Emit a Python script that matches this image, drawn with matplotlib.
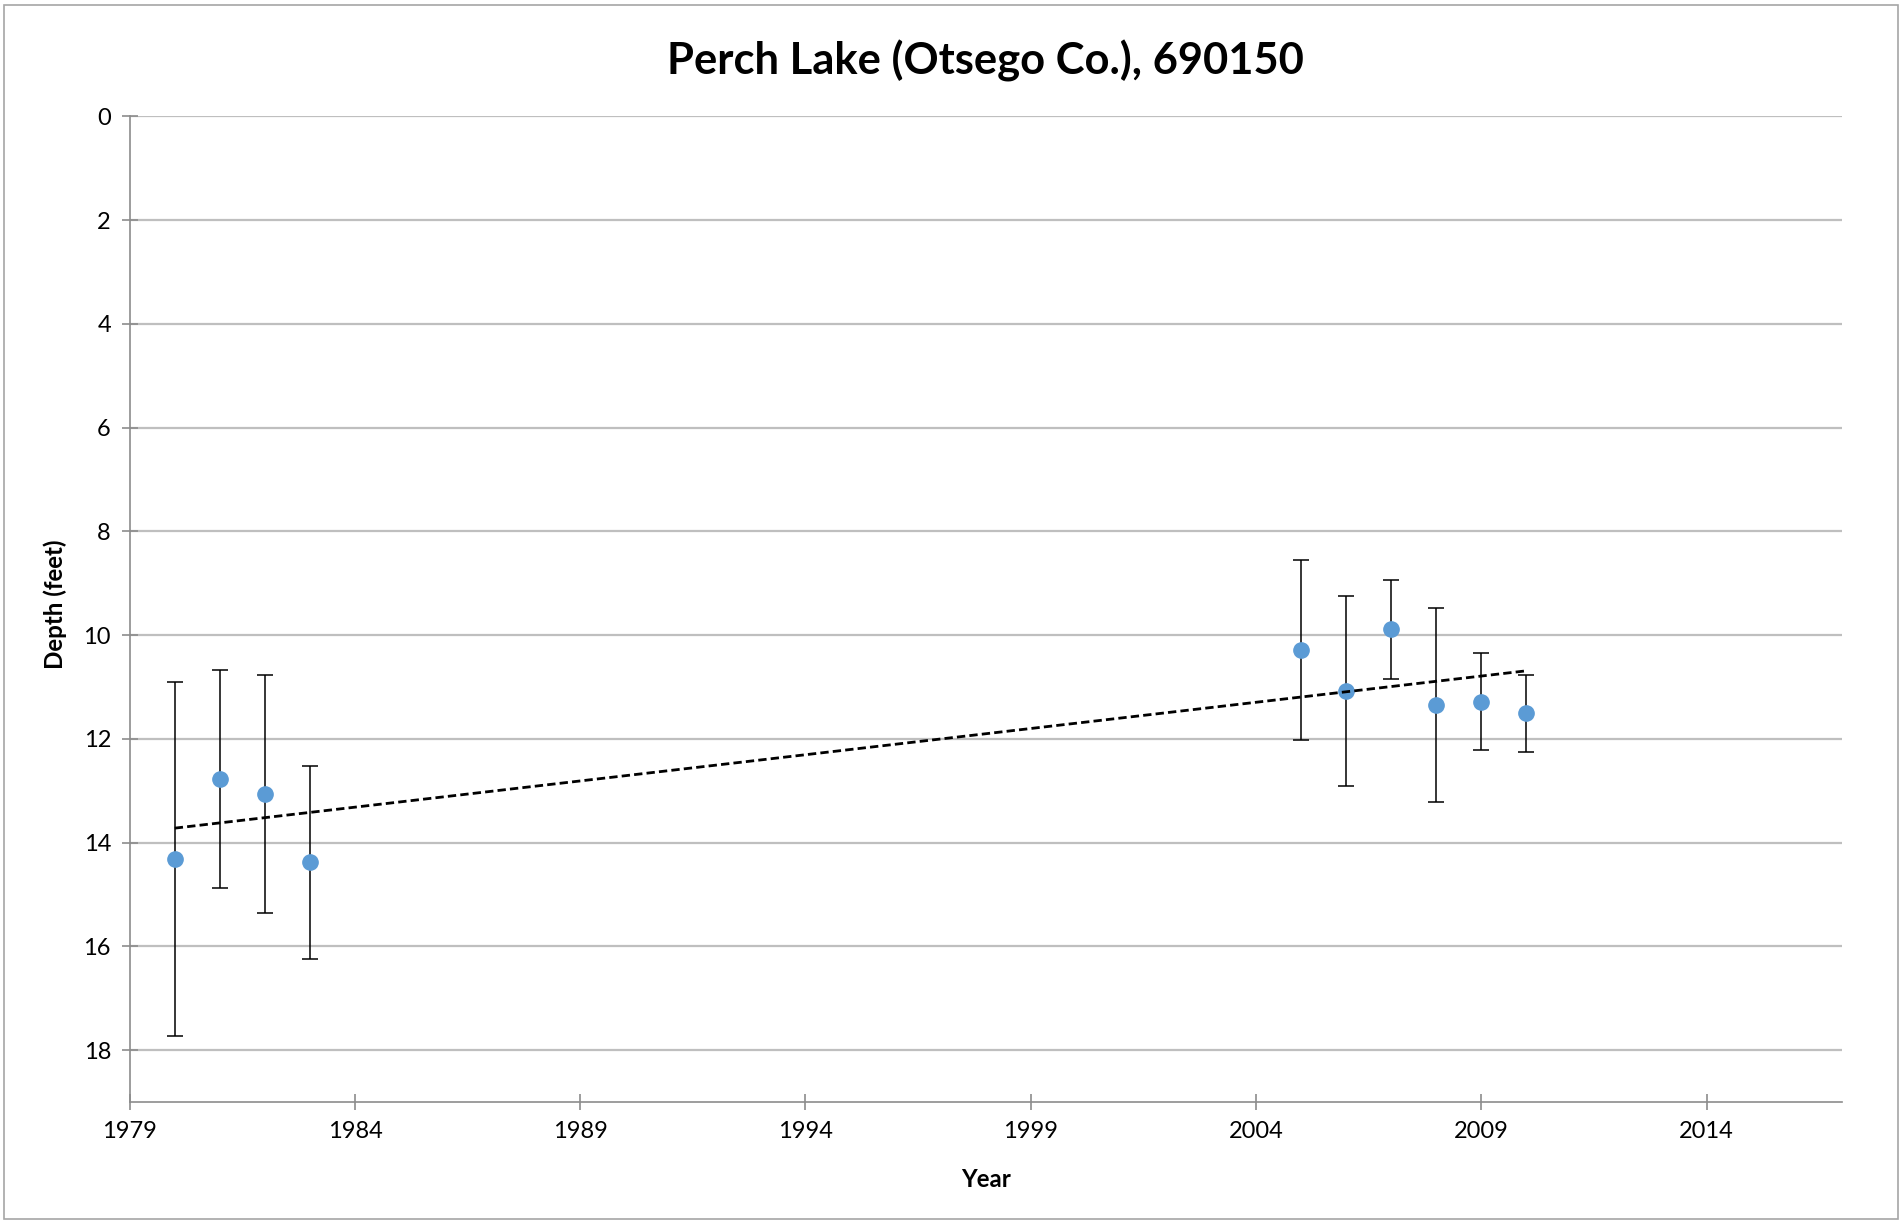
import matplotlib
matplotlib.use("Agg")
import matplotlib.pyplot as plt
from matplotlib.patches import Rectangle
import numpy as np

plt.rcParams['font.family'] = ['Lato', 'DejaVu Sans']

years = [1980, 1981, 1982, 1983, 2005, 2006, 2007, 2008, 2009, 2010]
depth = [14.32, 12.77, 13.06, 14.38, 10.29, 11.07, 9.89, 11.35, 11.28, 11.51]
err = [3.41, 2.10, 2.30, 1.86, 1.74, 1.83, 0.96, 1.87, 0.94, 0.75]
xticks = [1979, 1984, 1989, 1994, 1999, 2004, 2009, 2014]
yticks = [0, 2, 4, 6, 8, 10, 12, 14, 16, 18]

fig = plt.figure(figsize=(19.04, 12.23), dpi=100)
ax = fig.add_axes([0.0681, 0.0989, 0.8992, 0.806])

# outer chart border
fig.patches.append(Rectangle((0.002, 0.003), 0.995, 0.993, transform=fig.transFigure,
                             fill=False, edgecolor='#A6A6A6', linewidth=1.2))

ax.errorbar(years, depth, yerr=err, fmt='o', color='#5B9BD5', markersize=11,
            ecolor='black', elinewidth=1.1, capsize=5.5, capthick=1.1, zorder=3)

# linear trendline
coef = np.polyfit(years, depth, 1)
tx = np.array([min(years), max(years)])
ax.plot(tx, np.polyval(coef, tx), '--', color='black', linewidth=2, dashes=(3, 1.5), zorder=4)

ax.set_xlim(1979, 2017)
ax.set_ylim(19, 0)
ax.set_xticks(xticks)
ax.set_yticks(yticks)
ax.yaxis.grid(True, color='#BFBFBF', linewidth=1.6)
ax.set_axisbelow(True)

for s in ['top', 'right']:
    ax.spines[s].set_visible(False)
for s in ['left', 'bottom']:
    ax.spines[s].set_color('#8C8C8C')
    ax.spines[s].set_linewidth(1.2)
ax.tick_params(axis='both', direction='inout', length=11, width=1.2, color='#8C8C8C',
               labelsize=17, pad=8)

ax.set_title('Perch Lake (Otsego Co.), 690150', fontsize=31.3, fontweight='bold', pad=30)
ax.set_xlabel('Year', fontsize=17.4, fontweight='bold')
ax.set_ylabel('Depth (feet)', fontsize=17.4, fontweight='bold')
ax.xaxis.set_label_coords(0.5, -0.0674)
ax.yaxis.set_label_coords(-0.0366, 0.505)

fig.savefig('out.png', dpi=100)
